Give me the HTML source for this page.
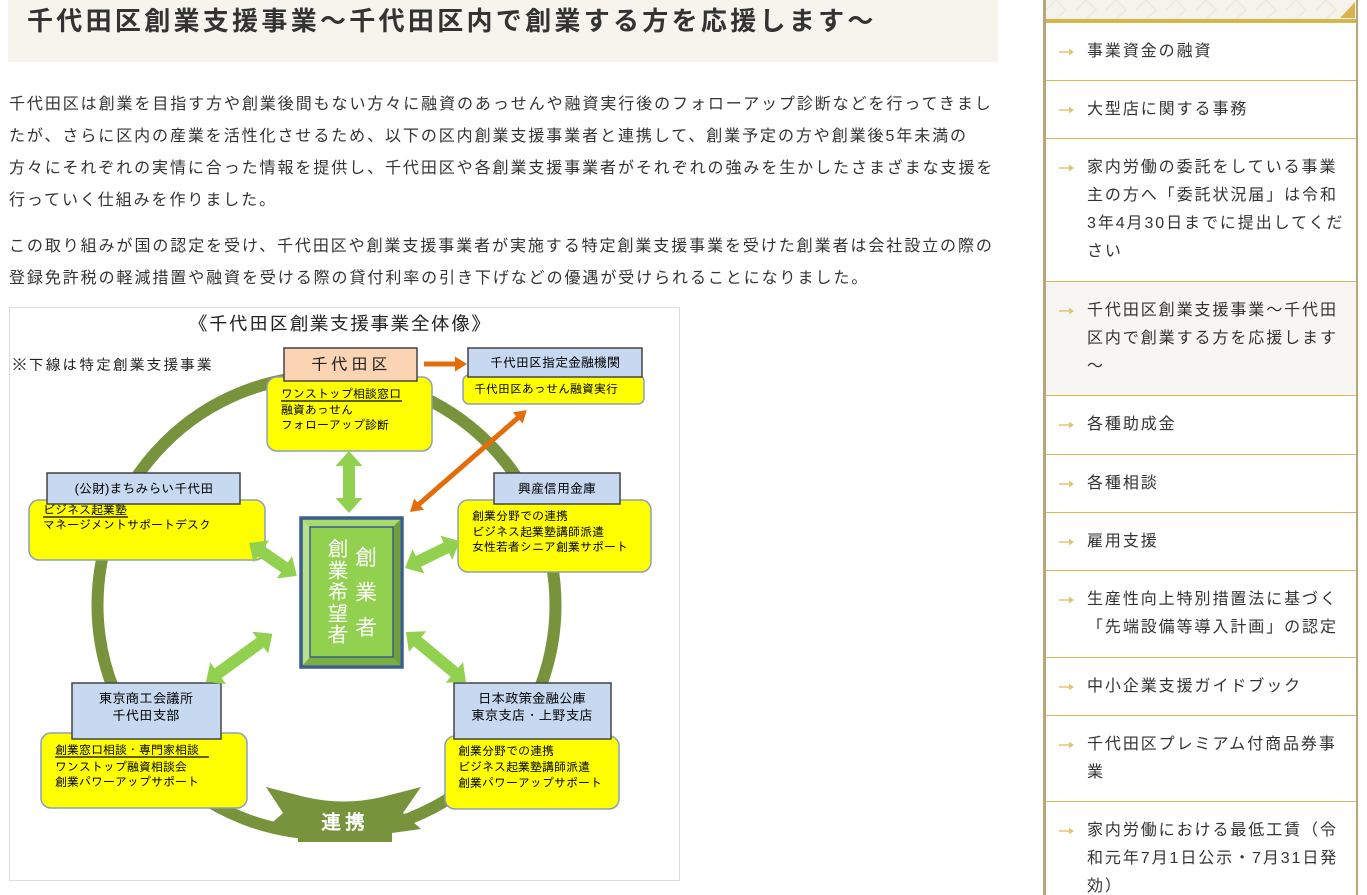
<!DOCTYPE html>
<html><head><meta charset="utf-8">
<style>
html,body{margin:0;padding:0;background:#fff;width:1367px;height:895px;overflow:hidden;position:relative;font-family:"Liberation Sans","Noto Sans CJK JP",sans-serif;color:#333;}
.hdr{position:absolute;left:8px;top:0;width:990px;height:62px;background:#f7f3ed;}
.title{position:absolute;left:27px;top:1px;line-height:40px;font-size:26px;font-weight:bold;letter-spacing:3.3px;white-space:nowrap;color:#333;}
.p{position:absolute;left:9px;font-size:16px;line-height:32px;letter-spacing:1.92px;white-space:nowrap;color:#333;}
.sb{position:absolute;left:1043px;top:0;width:3px;height:895px;background:#b9a47c;}
.sbr{position:absolute;left:1356px;top:0;width:1.5px;height:895px;background:#b9a47c;}
.sbtop{position:absolute;left:1046px;top:0;width:310px;height:19px;background:#f6f3ec;}
.gold{position:absolute;left:1046px;top:19px;width:310px;height:4px;background:#d8b44c;}
.sep{position:absolute;left:1046px;width:310px;height:1px;background:#d9b75a;}
.act{position:absolute;left:1046px;top:282px;width:310px;height:113px;background:#f8f6f2;}
.it{position:absolute;left:1087px;font-size:16px;line-height:28px;letter-spacing:1.92px;white-space:nowrap;color:#333;}
.ar{position:absolute;left:1059px;width:15px;height:8px;}
svg text{font-family:"Liberation Sans","IPAGothic","Noto Sans CJK JP",sans-serif;}
</style></head><body>
<div class="hdr"></div>
<div class="title">千代田区創業支援事業～千代田区内で創業する方を応援します～</div>

<div class="p" style="top:89px">千代田区は創業を目指す方や創業後間もない方々に融資のあっせんや融資実行後のフォローアップ診断などを行ってきまし<br>たが、さらに区内の産業を活性化させるため、以下の区内創業支援事業者と連携して、創業予定の方や創業後5年未満の<br>方々にそれぞれの実情に合った情報を提供し、千代田区や各創業支援事業者がそれぞれの強みを生かしたさまざまな支援を<br>行っていく仕組みを作りました。</div>
<div class="p" style="top:231px">この取り組みが国の認定を受け、千代田区や創業支援事業者が実施する特定創業支援事業を受けた創業者は会社設立の際の<br>登録免許税の軽減措置や融資を受ける際の貸付利率の引き下げなどの優遇が受けられることになりました。</div>

<svg style="position:absolute;left:0;top:0" width="700" height="895" viewBox="0 0 700 895">
<rect x="9.5" y="307.5" width="670" height="573" fill="#fff" stroke="#dcdcdc" stroke-width="1"/>
<text x="340" y="330" font-size="19" text-anchor="middle" fill="#222" letter-spacing="1.2">《千代田区創業支援事業全体像》</text>
<text x="12" y="370" font-size="15" fill="#222" letter-spacing="1.8">※下線は特定創業支援事業</text>

<circle cx="326.5" cy="605" r="229" fill="none" stroke="#77933c" stroke-width="12"/>

<!-- banner -->
<path d="M266,787 L305,797 Q344,806 382,797 L421,787 L403,813 L421,829 L392,833 L392,842 L298,842 L298,833 L266,828 L283,813 Z" fill="#77933c"/>
<text x="345" y="829" font-size="20" text-anchor="middle" fill="#fff" letter-spacing="4" font-weight="bold">連携</text>

<!-- top box -->
<rect x="267" y="377" width="165" height="74" rx="10" fill="#ffff00" stroke="#8aa0b8" stroke-width="1.5"/>
<rect x="284" y="348" width="133" height="33" fill="#fbd4b4" stroke="#444" stroke-width="1.5"/>
<text x="351" y="370" font-size="17" text-anchor="middle" fill="#222" letter-spacing="3">千代田区</text>
<text x="281" y="398" font-size="12" fill="#000">ワンストップ相談窓口</text>
<line x1="281" y1="401" x2="402" y2="401" stroke="#000" stroke-width="1.3"/>
<text x="281" y="414" font-size="12" fill="#000">融資あっせん</text>
<text x="281" y="429" font-size="12" fill="#000">フォローアップ診断</text>

<!-- financial -->
<rect x="463" y="375" width="181" height="29" rx="6" fill="#ffff00" stroke="#8aa0b8" stroke-width="1.5"/>
<rect x="468" y="348" width="174" height="29" fill="#c6d9f1" stroke="#444" stroke-width="1.5"/>
<text x="555" y="367" font-size="13" text-anchor="middle" fill="#000">千代田区指定金融機関</text>
<text x="474" y="393" font-size="12" fill="#000">千代田区あっせん融資実行</text>

<!-- left -->
<rect x="29" y="500" width="236" height="60" rx="10" fill="#ffff00" stroke="#8aa0b8" stroke-width="1.5"/>
<rect x="47" y="473" width="193" height="31" fill="#c6d9f1" stroke="#444" stroke-width="1.5"/>
<text x="144" y="493" font-size="13" text-anchor="middle" fill="#000">(公財)まちみらい千代田</text>
<text x="43" y="514" font-size="12" fill="#000">ビジネス起業塾</text>
<line x1="43" y1="517" x2="128" y2="517" stroke="#000" stroke-width="1.3"/>
<text x="43" y="529" font-size="12" fill="#000">マネージメントサポートデスク</text>

<!-- right -->
<rect x="458" y="500" width="193" height="72" rx="10" fill="#ffff00" stroke="#8aa0b8" stroke-width="1.5"/>
<rect x="494" y="473" width="126" height="31" fill="#c6d9f1" stroke="#444" stroke-width="1.5"/>
<text x="557" y="493" font-size="13" text-anchor="middle" fill="#000">興産信用金庫</text>
<text x="472" y="520" font-size="12" fill="#000">創業分野での連携</text>
<text x="472" y="536" font-size="12" fill="#000">ビジネス起業塾講師派遣</text>
<text x="472" y="551" font-size="12" fill="#000">女性若者シニア創業サポート</text>

<!-- bottom left -->
<rect x="41" y="733" width="206" height="75" rx="10" fill="#ffff00" stroke="#8aa0b8" stroke-width="1.5"/>
<rect x="72" y="683" width="149" height="56" fill="#c6d9f1" stroke="#444" stroke-width="1.5"/>
<text x="146" y="703" font-size="13.5" text-anchor="middle" fill="#000">東京商工会議所</text>
<text x="146" y="720" font-size="13.5" text-anchor="middle" fill="#000">千代田支部</text>
<text x="55" y="754" font-size="12" fill="#000">創業窓口相談・専門家相談</text>
<line x1="55" y1="757" x2="209" y2="757" stroke="#000" stroke-width="1.3"/>
<text x="55" y="771" font-size="12" fill="#000">ワンストップ融資相談会</text>
<text x="55" y="786" font-size="12" fill="#000">創業パワーアップサポート</text>

<!-- bottom right -->
<rect x="445" y="736" width="174" height="73" rx="10" fill="#ffff00" stroke="#8aa0b8" stroke-width="1.5"/>
<rect x="454" y="683" width="157" height="56" fill="#c6d9f1" stroke="#444" stroke-width="1.5"/>
<text x="532" y="703" font-size="13.5" text-anchor="middle" fill="#000">日本政策金融公庫</text>
<text x="532" y="720" font-size="13.5" text-anchor="middle" fill="#000">東京支店・上野支店</text>
<text x="458" y="755" font-size="12" fill="#000">創業分野での連携</text>
<text x="458" y="771" font-size="12" fill="#000">ビジネス起業塾講師派遣</text>
<text x="458" y="787" font-size="12" fill="#000">創業パワーアップサポート</text>

<!-- green arrows -->
<g fill="#92d050">
<path transform="translate(349,451) rotate(90)" d="M0,0 L15,-13.5 L15,-6 L47,-6 L47,-13.5 L62,0 L47,13.5 L47,6 L15,6 L15,13.5 Z"/>
<path transform="translate(249,543) rotate(34.5)" d="M0,0 L15,-13.5 L15,-6 L43,-6 L43,-13.5 L58,0 L43,13.5 L43,6 L15,6 L15,13.5 Z"/>
<path transform="translate(405,568) rotate(-26.1)" d="M0,0 L15,-13.5 L15,-6 L46,-6 L46,-13.5 L61,0 L46,13.5 L46,6 L15,6 L15,13.5 Z"/>
<path transform="translate(206,682) rotate(-36)" d="M0,0 L15,-13.5 L15,-6 L67,-6 L67,-13.5 L82,0 L67,13.5 L67,6 L15,6 L15,13.5 Z"/>
<path transform="translate(406,632) rotate(39.8)" d="M0,0 L15,-13.5 L15,-6 L63,-6 L63,-13.5 L78,0 L63,13.5 L63,6 L15,6 L15,13.5 Z"/>
</g>
<!-- orange arrows -->
<g fill="#e46c0a">
<path transform="translate(424,364)" d="M0,-2.5 L31,-2.5 L31,-7.5 L43,0 L31,7.5 L31,2.5 L0,2.5 Z"/>
<path transform="translate(410,512) rotate(-41.1)" d="M0,0 L12,-7.5 L12,-2.5 L143,-2.5 L143,-7.5 L155,0 L143,7.5 L143,2.5 L12,2.5 L12,7.5 Z"/>
</g>

<!-- center box -->
<rect x="301" y="518" width="101" height="149" fill="#92d050" stroke="#3b5e8c" stroke-width="3.5"/>
<polygon points="303,520 400,520 393,527 310,527" fill="#a8da70"/>
<polygon points="303,520 310,527 310,657 303,665" fill="#b9e08e"/>
<polygon points="400,520 400,665 393,657 393,527" fill="#6f9f38"/>
<polygon points="303,665 400,665 393,657 310,657" fill="#7aae42"/>
<rect x="310" y="527" width="83" height="130" fill="#92d050" stroke="#3b5e8c" stroke-width="1.5"/>
<g fill="#fff" font-size="22" text-anchor="middle">
<text x="366" y="565">創</text>
<text x="366" y="600">業</text>
<text x="366" y="635">者</text>
</g>
<g fill="#fff" font-size="21" text-anchor="middle">
<text x="338" y="556">創</text>
<text x="338" y="578">業</text>
<text x="338" y="599">希</text>
<text x="338" y="621">望</text>
<text x="338" y="642">者</text>
</g>
</svg>

<!-- sidebar -->
<div class="sbtop"></div>
<svg style="position:absolute;left:1046px;top:0" width="310" height="19"><g stroke="#f0ebe1" stroke-width="2" fill="none"><path d="M0,10 L10,0 L20,10 L10,19 M30,10 L40,0 L50,10 L40,19 M60,10 L70,0 L80,10 L70,19 M90,10 L100,0 L110,10 L100,19 M120,10 L130,0 L140,10 L130,19 M150,10 L160,0 L170,10 L160,19 M180,10 L190,0 L200,10 L190,19 M210,10 L220,0 L230,10 L220,19 M240,10 L250,0 L260,10 L250,19 M270,10 L280,0 L290,10 L280,19"/></g><polygon points="294,18 309,18 309,2" fill="#d8b44c"/></svg>
<div class="gold"></div>
<div class="act"></div>
<div class="sb"></div>
<div class="sbr"></div>

<div class="sep" style="top:80px"></div>
<div class="sep" style="top:138px"></div>
<div class="sep" style="top:281px"></div>
<div class="sep" style="top:395px"></div>
<div class="sep" style="top:454px"></div>
<div class="sep" style="top:512px"></div>
<div class="sep" style="top:570px"></div>
<div class="sep" style="top:657px"></div>
<div class="sep" style="top:715px"></div>
<div class="sep" style="top:801px"></div>

<div class="it" style="top:38px">事業資金の融資</div>
<div class="it" style="top:96px">大型店に関する事務</div>
<div class="it" style="top:154px">家内労働の委託をしている事業<br>主の方へ「委託状況届」は令和<br>3年4月30日までに提出してくだ<br>さい</div>
<div class="it" style="top:297px">千代田区創業支援事業～千代田<br>区内で創業する方を応援します<br>～</div>
<div class="it" style="top:411px">各種助成金</div>
<div class="it" style="top:470px">各種相談</div>
<div class="it" style="top:528px">雇用支援</div>
<div class="it" style="top:586px">生産性向上特別措置法に基づく<br>「先端設備等導入計画」の認定</div>
<div class="it" style="top:673px">中小企業支援ガイドブック</div>
<div class="it" style="top:731px">千代田区プレミアム付商品券事<br>業</div>
<div class="it" style="top:817px">家内労働における最低工賃（令<br>和元年7月1日公示・7月31日発<br>効）</div>

<svg class="ar" style="top:48px" viewBox="0 0 15 8"><path d="M0,3.2 H10 V0.5 L15,4 L10,7.5 V4.8 H0 Z" fill="#e2c573"/></svg>
<svg class="ar" style="top:106px" viewBox="0 0 15 8"><path d="M0,3.2 H10 V0.5 L15,4 L10,7.5 V4.8 H0 Z" fill="#e2c573"/></svg>
<svg class="ar" style="top:164px" viewBox="0 0 15 8"><path d="M0,3.2 H10 V0.5 L15,4 L10,7.5 V4.8 H0 Z" fill="#e2c573"/></svg>
<svg class="ar" style="top:307px" viewBox="0 0 15 8"><path d="M0,3.2 H10 V0.5 L15,4 L10,7.5 V4.8 H0 Z" fill="#e2c573"/></svg>
<svg class="ar" style="top:421px" viewBox="0 0 15 8"><path d="M0,3.2 H10 V0.5 L15,4 L10,7.5 V4.8 H0 Z" fill="#e2c573"/></svg>
<svg class="ar" style="top:480px" viewBox="0 0 15 8"><path d="M0,3.2 H10 V0.5 L15,4 L10,7.5 V4.8 H0 Z" fill="#e2c573"/></svg>
<svg class="ar" style="top:538px" viewBox="0 0 15 8"><path d="M0,3.2 H10 V0.5 L15,4 L10,7.5 V4.8 H0 Z" fill="#e2c573"/></svg>
<svg class="ar" style="top:596px" viewBox="0 0 15 8"><path d="M0,3.2 H10 V0.5 L15,4 L10,7.5 V4.8 H0 Z" fill="#e2c573"/></svg>
<svg class="ar" style="top:683px" viewBox="0 0 15 8"><path d="M0,3.2 H10 V0.5 L15,4 L10,7.5 V4.8 H0 Z" fill="#e2c573"/></svg>
<svg class="ar" style="top:741px" viewBox="0 0 15 8"><path d="M0,3.2 H10 V0.5 L15,4 L10,7.5 V4.8 H0 Z" fill="#e2c573"/></svg>
<svg class="ar" style="top:827px" viewBox="0 0 15 8"><path d="M0,3.2 H10 V0.5 L15,4 L10,7.5 V4.8 H0 Z" fill="#e2c573"/></svg>
</body></html>
